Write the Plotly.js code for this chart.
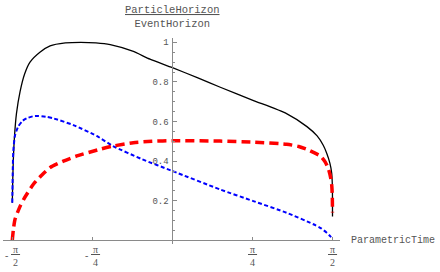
<!DOCTYPE html>
<html>
<head>
<meta charset="utf-8">
<script src="https://cdn.plot.ly/plotly-3.0.1.min.js"></script>
<style>
  html, body { margin: 0; padding: 0; background: #fff; }
  #plot { width: 440px; height: 272px; }
</style>
</head>
<body>
<div id="plot"></div>
<script>
  // ---------- Data ----------
  const H = Math.PI / 2;

  const blackT = [-H, -1.5665, -1.561, -1.550, -1.530, -1.495, -1.45, -1.397, -1.30, -1.20, -1.05, -0.90,
                  -0.75, -0.61, -0.39, -0.22, 0, 0.25, 0.47, 0.79, 1.12, 1.32, 1.42, 1.48, 1.514, 1.545,
                  1.563, 1.5695, H];
  const blackY = [0.19, 0.30, 0.40, 0.52, 0.64, 0.75, 0.84, 0.90, 0.95, 0.982, 0.997, 1.0,
                  0.997, 0.988, 0.955, 0.915, 0.872, 0.82, 0.773, 0.707, 0.64, 0.574, 0.527, 0.48, 0.44, 0.39,
                  0.34, 0.27, 0.12];

  const blueT = [-H, -1.566, -1.561, -1.544, -1.512, -1.47, -1.43, -1.37, -1.316, -1.24, -1.169, -0.972,
                 -0.743, -0.583, -0.3, 0, 0.467, 0.794, 1.121, 1.383, 1.46, 1.514, 1.55, H];
  const blueY = [0.19, 0.36, 0.45, 0.53, 0.575, 0.603, 0.616, 0.626, 0.628, 0.624, 0.616, 0.582,
                 0.527, 0.476, 0.41, 0.35, 0.257, 0.198, 0.139, 0.081, 0.06, 0.038, 0.02, 0.005];

  const redT = [-H, -1.56, -1.544, -1.50, -1.459, -1.364, -1.28, -1.201, -1.07, -0.937, -0.71, -0.58,
                -0.384, -0.2, 0, 0.467, 0.794, 1.121, 1.24, 1.318, 1.40, 1.451, 1.50, 1.532, 1.555,
                1.564, 1.569, H];
  const redY = [0, 0.055, 0.106, 0.165, 0.207, 0.283, 0.33, 0.367, 0.40, 0.426, 0.46, 0.476,
                0.493, 0.5, 0.503, 0.501, 0.496, 0.485, 0.474, 0.46, 0.44, 0.426, 0.395, 0.359, 0.31,
                0.274, 0.22, 0.14];

  const xTickVals = [-H, -H / 2, H / 2, H];
  const xTickSign = ['-', '-', '', ''];
  const xTickDen  = ['2', '4', '4', '2'];
  const yTickVals = [0.2, 0.4, 0.6, 0.8, 1];
  const yTickText = ['0.2', '0.4', '0.6', '0.8', '1'];

  // ---------- Style ----------
  const axisColor = '#8a8a8a';
  const textColor = '#555';
  const mono = "'Courier New', Courier, 'Liberation Mono', 'Nimbus Mono PS', FreeMono, monospace";
  const serif = "'Liberation Serif', serif";

  const xRange = [-1.662, 1.6444];
  const yRange = [-0.0187, 1.0217];
  const xAxisPos = (0 - yRange[0]) / (yRange[1] - yRange[0]);
  const yAxisPos = (0 - xRange[0]) / (xRange[1] - xRange[0]);

  const traces = [
    { x: blackT, y: blackY, mode: 'lines', line: { color: '#000', width: 1.3, shape: 'spline', smoothing: 0.6 } },
    { x: blueT, y: blueY, mode: 'lines', line: { color: '#0000ff', width: 2, dash: '4px,2.5px', shape: 'spline', smoothing: 0.6 } },
    { x: redT, y: redY, mode: 'lines', line: { color: '#ff0000', width: 3.5, dash: '9px,5px', shape: 'spline', smoothing: 0.6 } }
  ];

  // ---------- Tick labels as stacked fractions ----------
  const annotations = [];
  xTickVals.forEach((v, i) => {
    const neg = xTickSign[i] !== '';
    annotations.push({
      x: v, xref: 'x', y: 0, yref: 'y', yanchor: 'top', yshift: -2, xshift: neg ? 3 : 0,
      text: '<u>\u2009π\u2009</u><br>' + xTickDen[i], showarrow: false,
      font: { family: serif, size: 10, color: textColor }
    });
    if (neg) {
      annotations.push({
        x: v, xref: 'x', y: 0, yref: 'y', yanchor: 'middle', yshift: -15, xshift: -6,
        text: '-', showarrow: false, font: { family: serif, size: 10, color: textColor }
      });
    }
  });
  annotations.push({
    x: 0, xref: 'x', y: 1, yref: 'paper', yanchor: 'bottom', yshift: 6,
    text: '<u>ParticleHorizon</u><br>EventHorizon', showarrow: false,
    font: { family: mono, size: 10.5, color: textColor }
  });
  annotations.push({
    x: 1, xref: 'paper', y: 0, yref: 'y', xanchor: 'left', yanchor: 'middle', xshift: 9,
    text: 'ParametricTime', showarrow: false,
    font: { family: mono, size: 10, color: textColor }
  });

  const layout = {
    width: 440, height: 272,
    margin: { l: 3, r: 100, t: 38, b: 28 },
    paper_bgcolor: '#fff', plot_bgcolor: '#fff',
    showlegend: false,
    xaxis: {
      range: xRange, showgrid: false, zeroline: false,
      showline: true, linecolor: axisColor, linewidth: 1,
      anchor: 'free', position: xAxisPos,
      tickmode: 'array', tickvals: xTickVals, showticklabels: false,
      ticks: 'inside', ticklen: 3, tickcolor: axisColor
    },
    yaxis: {
      range: yRange, showgrid: false, zeroline: false,
      showline: true, linecolor: axisColor, linewidth: 1,
      anchor: 'free', position: yAxisPos,
      tickmode: 'array', tickvals: yTickVals, ticktext: yTickText,
      ticks: 'inside', ticklen: 4, tickcolor: axisColor, ticklabelstandoff: 2,
      tickfont: { family: mono, size: 9, color: textColor },
      minor: { tick0: 0, dtick: 0.05, ticks: 'inside', ticklen: 2, tickcolor: axisColor }
    },
    annotations: annotations
  };

  Plotly.newPlot('plot', traces, layout, { displayModeBar: false, staticPlot: true });
</script>
</body>
</html>
